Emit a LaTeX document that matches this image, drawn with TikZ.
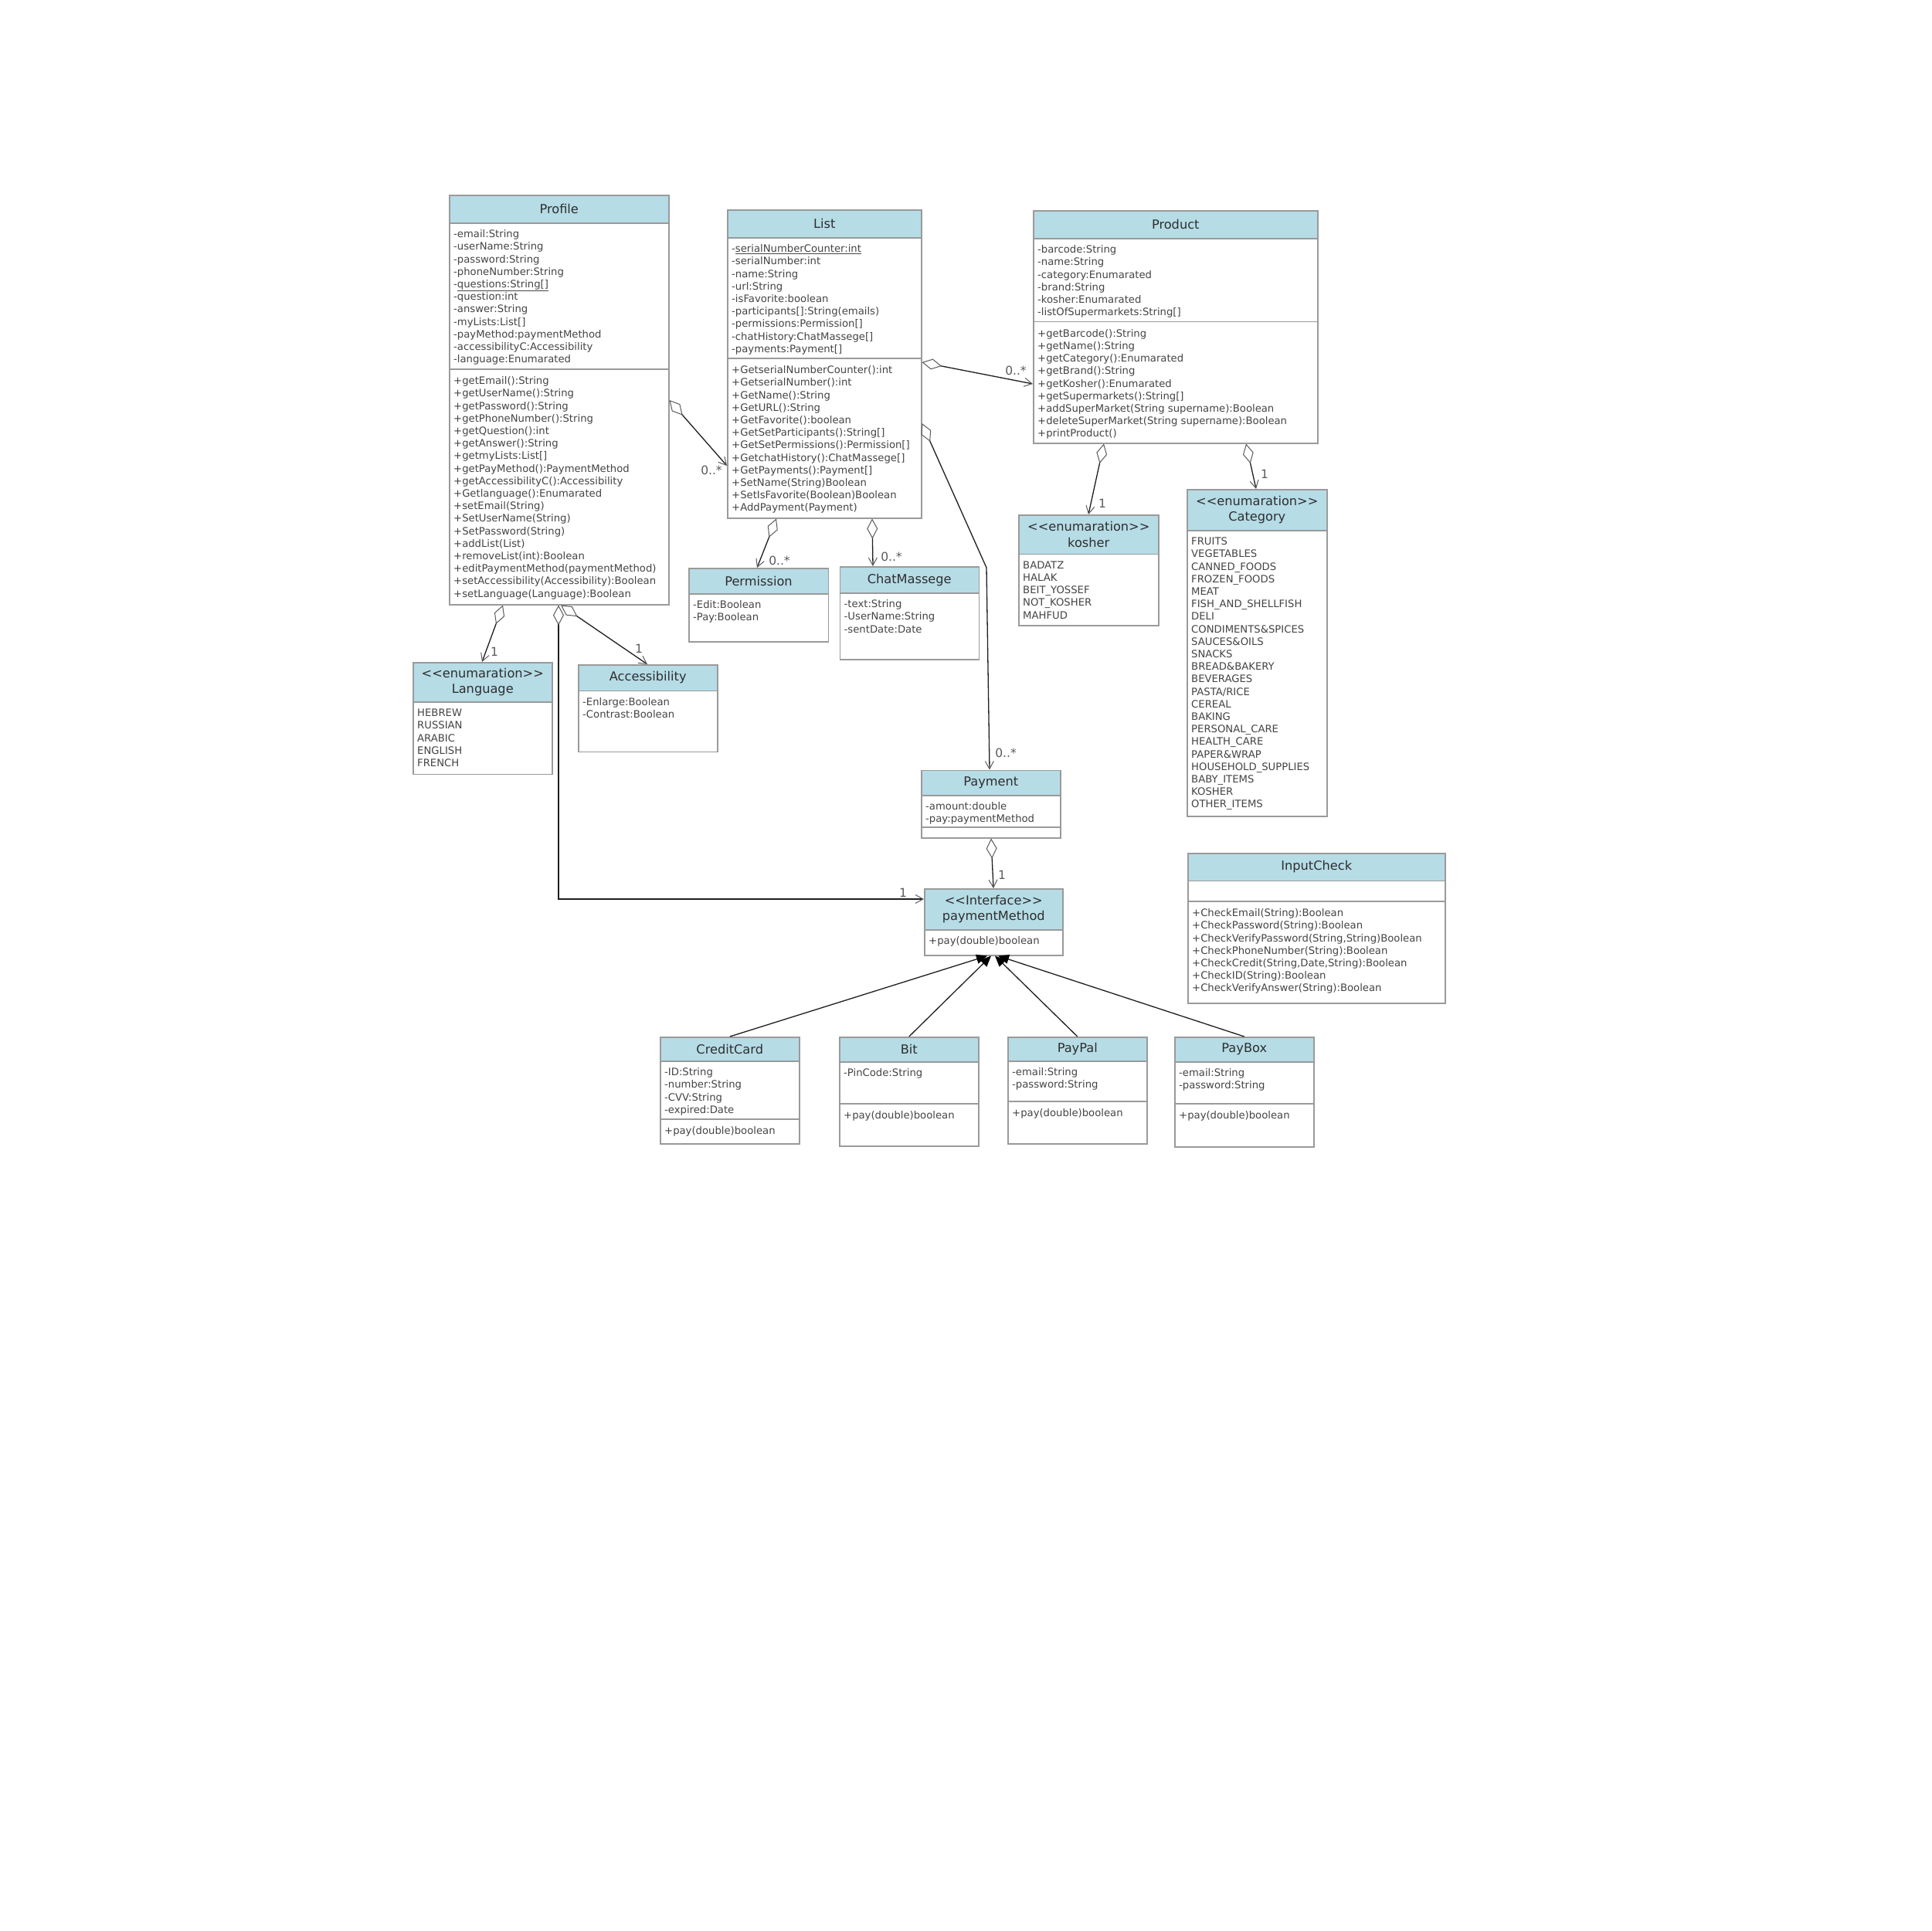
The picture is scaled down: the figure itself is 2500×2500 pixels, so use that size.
\documentclass[tikz,border=0pt]{standalone}
\usepackage{fontspec}
\setmainfont{DejaVu Sans}
\usetikzlibrary{arrows.meta}
\definecolor{hdrblue}{HTML}{B6DCE6}
\definecolor{bordercol}{HTML}{9A9A9A}
\definecolor{txtcol}{HTML}{444444}
\definecolor{titlecol}{HTML}{2E2E2E}
\definecolor{linecol}{HTML}{1E1E1E}
\definecolor{tipcol}{HTML}{5A5A5A}
\newcommand\umlL{<\kern0pt<\kern0pt}
\newcommand\umlR{>\kern0pt>}
\newcommand\fs{\rule{0pt}{12pt}}
\tikzset{
  clsbox/.style={draw=bordercol, line width=1.5pt, fill=white, rectangle, inner sep=0pt, anchor=north west},
  hdrbox/.style={draw=bordercol, line width=1.5pt, fill=hdrblue, rectangle, inner sep=0pt, anchor=north west, align=center, text=titlecol, font=\fontsize{16.2}{20.2}\selectfont},
  txt/.style={anchor=north west, inner sep=0pt, align=left, text=txtcol, font=\fontsize{13.2}{16.2}\selectfont},
  lbl/.style={inner sep=0pt, text=tipcol, font=\fontsize{15.5}{18}\selectfont},
  sepline/.style={draw=bordercol, line width=1.5pt},
  aggr/.style={draw=linecol, line width=1.3pt, {Diamond[open,length=26pt,width=14pt,line width=1pt,color=tipcol]}-{Straight Barb[length=10pt,width=11pt,line width=1pt,color=tipcol]}},
  gen/.style={draw=linecol, line width=1.3pt, -{Triangle[length=14pt,width=12pt,color=black]}}
}
\begin{document}
\begin{tikzpicture}[x=1pt,y=-1pt]
\useasboundingbox (0,0) rectangle (2500,2500);
\fill[white] (0,0) rectangle (2500,2500);

% ---------- Profile
\node[clsbox, minimum width=284pt, minimum height=530pt] (profile) at (581,252) {};
\node[hdrbox, minimum width=284pt, minimum height=36pt] (profileT) at (581,252) {Profile};
\draw[sepline] ([yshift=-226pt]profile.north west) -- ([yshift=-226pt]profile.north east);
\node[txt] (profileA) at (587,295.5) {\fs-email:String\\-userName:String\\-password:String\\-phoneNumber:String\\-\underline{questions:String[]}\\-question:int\\-answer:String\\-myLists:List[]\\-payMethod:paymentMethod\\-accessibilityC:Accessibility\\-language:Enumarated};
\node[txt] (profileM) at (587,485.5) {\fs+getEmail():String\\+getUserName():String\\+getPassword():String\\+getPhoneNumber():String\\+getQuestion():int\\+getAnswer():String\\+getmyLists:List[]\\+getPayMethod():PaymentMethod\\+getAccessibilityC():Accessibility\\+Getlanguage():Enumarated\\+setEmail(String)\\+SetUserName(String)\\+SetPassword(String)\\+addList(List)\\+removeList(int):Boolean\\+editPaymentMethod(paymentMethod)\\+setAccessibility(Accessibility):Boolean\\+setLanguage(Language):Boolean};

% ---------- List
\node[clsbox, minimum width=251pt, minimum height=399pt] (list) at (941,271) {};
\node[hdrbox, minimum width=251pt, minimum height=36pt] (listT) at (941,271) {List};
\draw[sepline] ([yshift=-193pt]list.north west) -- ([yshift=-193pt]list.north east);
\node[txt] (listA) at (947,314.5) {\fs-\underline{serialNumberCounter:int}\\-serialNumber:int\\-name:String\\-url:String\\-isFavorite:boolean\\-participants[]:String(emails)\\-permissions:Permission[]\\-chatHistory:ChatMassege[]\\-payments:Payment[]};
\node[txt] (listM) at (947,471.5) {\fs+GetserialNumberCounter():int\\+GetserialNumber():int\\+GetName():String\\+GetURL():String\\+GetFavorite():boolean\\+GetSetParticipants():String[]\\+GetSetPermissions():Permission[]\\+GetchatHistory():ChatMassege[]\\+GetPayments():Payment[]\\+SetName(String)Boolean\\+SetIsFavorite(Boolean)Boolean\\+AddPayment(Payment)};

% ---------- Product
\node[clsbox, minimum width=368pt, minimum height=301pt] (product) at (1337,272) {};
\node[hdrbox, minimum width=368pt, minimum height=36pt] (productT) at (1337,272) {Product};
\draw[sepline] ([yshift=-144.5pt]product.north west) -- ([yshift=-144.5pt]product.north east);
\node[txt] (productA) at (1343,315.5) {\fs-barcode:String\\-name:String\\-category:Enumarated\\-brand:String\\-kosher:Enumarated\\-listOfSupermarkets:String[]};
\node[txt] (productM) at (1343,424) {\fs+getBarcode():String\\+getName():String\\+getCategory():Enumarated\\+getBrand():String\\+getKosher():Enumarated\\+getSupermarkets():String[]\\+addSuperMarket(String supername):Boolean\\+deleteSuperMarket(String supername):Boolean\\+printProduct()};

% ---------- kosher
\node[clsbox, minimum width=181pt, minimum height=143pt] (kosher) at (1318,666) {};
\node[hdrbox, minimum width=181pt, minimum height=50.5pt] (kosherT) at (1318,666) {\umlL enumaration\umlR\\kosher};
\node[txt] (kosherA) at (1324,724) {\fs BADATZ\\HALAK\\BEIT\_YOSSEF\\NOT\_KOSHER\\MAHFUD};

% ---------- Category
\node[clsbox, minimum width=181pt, minimum height=423pt] (category) at (1536,633) {};
\node[hdrbox, minimum width=181pt, minimum height=53pt] (categoryT) at (1536,633) {\umlL enumaration\umlR\\Category};
\node[txt] (categoryA) at (1542,693.5) {\fs FRUITS\\VEGETABLES\\CANNED\_FOODS\\FROZEN\_FOODS\\MEAT\\FISH\_AND\_SHELLFISH\\DELI\\CONDIMENTS\&SPICES\\SAUCES\&OILS\\SNACKS\\BREAD\&BAKERY\\BEVERAGES\\PASTA/RICE\\CEREAL\\BAKING\\PERSONAL\_CARE\\HEALTH\_CARE\\PAPER\&WRAP\\HOUSEHOLD\_SUPPLIES\\BABY\_ITEMS\\KOSHER\\OTHER\_ITEMS};

% ---------- Language
\node[clsbox, minimum width=180pt, minimum height=144.5pt] (language) at (534,857) {};
\node[hdrbox, minimum width=180pt, minimum height=51pt] (languageT) at (534,857) {\umlL enumaration\umlR\\Language};
\node[txt] (languageA) at (540,915.5) {\fs HEBREW\\RUSSIAN\\ARABIC\\ENGLISH\\FRENCH};

% ---------- Accessibility
\node[clsbox, minimum width=180pt, minimum height=112.5pt] (access) at (748,860) {};
\node[hdrbox, minimum width=180pt, minimum height=33.5pt] (accessT) at (748,860) {Accessibility};
\node[txt] (accessA) at (754,901) {\fs-Enlarge:Boolean\\-Contrast:Boolean};

% ---------- Permission
\node[clsbox, minimum width=180.5pt, minimum height=95pt] (perm) at (891,735) {};
\node[hdrbox, minimum width=180.5pt, minimum height=33pt] (permT) at (891,735) {Permission};
\node[txt] (permA) at (897,775.5) {\fs-Edit:Boolean\\-Pay:Boolean};

% ---------- ChatMassege
\node[clsbox, minimum width=180pt, minimum height=120pt] (chat) at (1086.5,733) {};
\node[hdrbox, minimum width=180pt, minimum height=34pt] (chatT) at (1086.5,733) {ChatMassege};
\node[txt] (chatA) at (1092.5,774.5) {\fs-text:String\\-UserName:String\\-sentDate:Date};

% ---------- Payment
\node[clsbox, minimum width=180pt, minimum height=87.5pt] (payment) at (1192,996.5) {};
\node[hdrbox, minimum width=180pt, minimum height=32.5pt] (paymentT) at (1192,996.5) {Payment};
\draw[sepline] ([yshift=-74.5pt]payment.north west) -- ([yshift=-74.5pt]payment.north east);
\node[txt] (paymentA) at (1198,1036.5) {\fs-amount:double\\-pay:paymentMethod};

% ---------- paymentMethod interface
\node[clsbox, minimum width=179pt, minimum height=86pt] (iface) at (1196,1150) {};
\node[hdrbox, minimum width=179pt, minimum height=53pt] (ifaceT) at (1196,1150) {\umlL Interface\umlR\\paymentMethod};
\node[txt] (ifaceM) at (1202,1210.5) {\fs+pay(double)boolean};

% ---------- InputCheck
\node[clsbox, minimum width=333pt, minimum height=194pt] (input) at (1537,1104) {};
\node[hdrbox, minimum width=333pt, minimum height=35.5pt] (inputT) at (1537,1104) {InputCheck};
\draw[sepline] ([yshift=-63pt]input.north west) -- ([yshift=-63pt]input.north east);
\node[txt] (inputM) at (1543,1174.5) {\fs+CheckEmail(String):Boolean\\+CheckPassword(String):Boolean\\+CheckVerifyPassword(String,String)Boolean\\+CheckPhoneNumber(String):Boolean\\+CheckCredit(String,Date,String):Boolean\\+CheckID(String):Boolean\\+CheckVerifyAnswer(String):Boolean};

% ---------- CreditCard
\node[clsbox, minimum width=180pt, minimum height=138pt] (credit) at (854,1342) {};
\node[hdrbox, minimum width=180pt, minimum height=31pt] (creditT) at (854,1342) {CreditCard};
\draw[sepline] ([yshift=-107pt]credit.north west) -- ([yshift=-107pt]credit.north east);
\node[txt] (creditA) at (860,1380.5) {\fs-ID:String\\-number:String\\-CVV:String\\-expired:Date};
\node[txt] (creditM) at (860,1456.5) {\fs+pay(double)boolean};

% ---------- Bit
\node[clsbox, minimum width=180pt, minimum height=141pt] (bit) at (1086,1342) {};
\node[hdrbox, minimum width=180pt, minimum height=32pt] (bitT) at (1086,1342) {Bit};
\draw[sepline] ([yshift=-87pt]bit.north west) -- ([yshift=-87pt]bit.north east);
\node[txt] (bitA) at (1092,1381.5) {\fs-PinCode:String};
\node[txt] (bitM) at (1092,1436.5) {\fs+pay(double)boolean};

% ---------- PayPal
\node[clsbox, minimum width=180pt, minimum height=138pt] (paypal) at (1304,1342) {};
\node[hdrbox, minimum width=180pt, minimum height=31pt] (paypalT) at (1304,1342) {PayPal};
\draw[sepline] ([yshift=-84pt]paypal.north west) -- ([yshift=-84pt]paypal.north east);
\node[txt] (paypalA) at (1310,1380.5) {\fs-email:String\\-password:String};
\node[txt] (paypalM) at (1310,1433.5) {\fs+pay(double)boolean};

% ---------- PayBox
\node[clsbox, minimum width=180pt, minimum height=142pt] (paybox) at (1520,1342) {};
\node[hdrbox, minimum width=180pt, minimum height=32pt] (payboxT) at (1520,1342) {PayBox};
\draw[sepline] ([yshift=-87pt]paybox.north west) -- ([yshift=-87pt]paybox.north east);
\node[txt] (payboxA) at (1526,1381.5) {\fs-email:String\\-password:String};
\node[txt] (payboxM) at (1526,1436.5) {\fs+pay(double)boolean};

% ---------- connectors
\coordinate (bendLP) at (1277,735);
\draw[aggr] ([yshift=-266pt]profile.north east) -- ([yshift=-332pt]list.north west);
\draw[aggr] ([yshift=-198pt]list.north east) -- ([yshift=-225pt]product.north west);
\draw[aggr] ([yshift=-277pt]list.north east) -- (bendLP) -- ([xshift=89pt]payment.north west);
\draw[aggr] ([xshift=64pt]list.south west) -- ([xshift=89pt]perm.north west);
\draw[aggr] ([xshift=188pt]list.south west) -- ([xshift=43.5pt]chat.north west);
\draw[aggr] ([xshift=92pt]product.south west) -- ([xshift=91pt]kosher.north west);
\draw[aggr] ([xshift=276pt]product.south west) -- ([xshift=90pt]category.north west);
\draw[aggr] ([xshift=70pt]profile.south west) -- ([xshift=90pt]language.north west);
\draw[aggr] ([xshift=145pt]profile.south west) -- ([xshift=90pt]access.north west);
\draw[aggr] ([xshift=142pt]profile.south west) |- ([yshift=-14pt]iface.north west);
\draw[aggr] ([xshift=91pt]payment.south west) -- ([xshift=90pt]iface.north west);

\draw[gen] (credit.north) -- ([xshift=82pt]iface.south west);
\draw[gen] (bit.north) -- ([xshift=87pt]iface.south west);
\draw[gen] (paypal.north) -- ([xshift=92pt]iface.south west);
\draw[gen] (paybox.north) -- ([xshift=96pt]iface.south west);

% ---------- multiplicities
\node[lbl] (m1) at (921,609) {0..*};
\node[lbl] (m2) at (1315,480) {0..*};
\node[lbl] (m3) at (1302,975) {0..*};
\node[lbl] (m4) at (1009,726) {0..*};
\node[lbl] (m5) at (1154,721) {0..*};
\node[lbl] (m6) at (1427,652) {1};
\node[lbl] (m7) at (1637,614) {1};
\node[lbl] (m8) at (640,844) {1};
\node[lbl] (m9) at (827,840) {1};
\node[lbl] (m10) at (1169,1156) {1};
\node[lbl] (m11) at (1297,1133) {1};
\end{tikzpicture}
\end{document}
